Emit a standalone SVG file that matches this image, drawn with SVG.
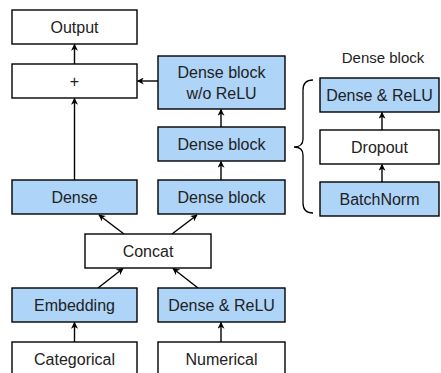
<svg xmlns="http://www.w3.org/2000/svg" width="441" height="373" viewBox="0 0 441 373">
<defs>
<style>
rect{stroke:#000;stroke-width:1.4}
.w{fill:#fff}
.b{fill:#aed4f8}
text{font-family:"Liberation Sans",Arial,sans-serif;font-size:16px;fill:#222;text-anchor:middle}
.c line{stroke:#000;stroke-width:1.4;marker-end:url(#ah)}
</style>
<marker id="ah" viewBox="0 0 10 10" refX="9" refY="5" markerWidth="7" markerHeight="7" markerUnits="userSpaceOnUse" orient="auto">
<path d="M0,0 L10,5 L0,10 L3,5 Z" fill="#000"/>
</marker>
</defs>
<rect width="441" height="373" fill="#fff" style="stroke:none"/>
<g class="c" id="connectors">
<line x1="74.5" y1="64" x2="74.5" y2="44.5"/>
<line x1="158" y1="81" x2="137.5" y2="81"/>
<line x1="74.5" y1="180" x2="74.5" y2="98.5"/>
<line x1="221" y1="127" x2="221" y2="109.5"/>
<line x1="221" y1="180" x2="221" y2="161.5"/>
<line x1="124" y1="234" x2="99" y2="215"/>
<line x1="172" y1="234" x2="197" y2="215"/>
<line x1="98" y1="288" x2="123" y2="268.5"/>
<line x1="198" y1="288" x2="173" y2="268.5"/>
<line x1="74.5" y1="342" x2="74.5" y2="322.5"/>
<line x1="221" y1="342" x2="221" y2="322.5"/>
<line x1="382" y1="130" x2="382" y2="112.5"/>
<line x1="382" y1="182" x2="382" y2="164.5"/>
<path d="M313,80 Q303,80 303,90 L303,139 Q303,147 294,147 Q303,147 303,155 L303,203 Q303,213 313,213" fill="none" stroke="#000" stroke-width="1.3"/>
</g>
<g id="output"><rect class="w" x="12" y="10" width="125" height="34"/><text x="74.5" y="32.5">Output</text></g>
<g id="plus"><rect class="w" x="12" y="64" width="125" height="34"/><text x="74.5" y="86.5">+</text></g>
<g id="dense-wo-relu"><rect class="b" x="158" y="56" width="127" height="53"/><text x="221.5" y="78">Dense block</text><text x="221.5" y="99">w/o ReLU</text></g>
<g id="dense-block-2"><rect class="b" x="158" y="127" width="127" height="34"/><text x="221.5" y="149.5">Dense block</text></g>
<g id="dense"><rect class="b" x="12" y="180" width="125" height="34"/><text x="74.5" y="202.5">Dense</text></g>
<g id="dense-block-1"><rect class="b" x="158" y="180" width="127" height="34"/><text x="221.5" y="202.5">Dense block</text></g>
<g id="concat"><rect class="w" x="85" y="234" width="126" height="34"/><text x="148" y="256.5">Concat</text></g>
<g id="embedding"><rect class="b" x="12" y="288" width="125" height="34"/><text x="74.5" y="310.5">Embedding</text></g>
<g id="dense-relu"><rect class="b" x="158" y="288" width="127" height="34"/><text x="221.5" y="310.5">Dense &amp; ReLU</text></g>
<g id="categorical"><rect class="w" x="12" y="342" width="125" height="34"/><text x="74.5" y="365">Categorical</text></g>
<g id="numerical"><rect class="w" x="158" y="342" width="127" height="34"/><text x="221.5" y="365">Numerical</text></g>
<g id="title"><text x="383" y="63" style="font-size:15px">Dense block</text></g>
<g id="db-dense-relu"><rect class="b" x="320" y="78" width="119" height="34"/><text x="379.5" y="100.5">Dense &amp; ReLU</text></g>
<g id="db-dropout"><rect class="w" x="320" y="130" width="119" height="34"/><text x="379.5" y="152.5">Dropout</text></g>
<g id="db-batchnorm"><rect class="b" x="320" y="182" width="119" height="34"/><text x="379.5" y="204.5">BatchNorm</text></g>
</svg>
